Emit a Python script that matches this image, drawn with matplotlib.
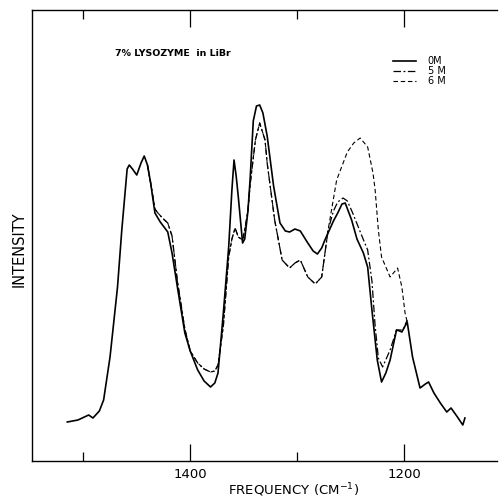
import matplotlib
matplotlib.use("Agg")
import matplotlib.pyplot as plt
from matplotlib.ticker import FixedLocator

# ---- data (frequency in cm^-1, intensity in arbitrary units) ----
freq_0M = [1515, 1505, 1495, 1491, 1485, 1481, 1475, 1468, 1464, 1459, 1457, 1454,
           1450, 1446, 1443, 1440, 1437, 1433, 1428, 1421, 1417, 1412, 1405, 1400,
           1393, 1387, 1381, 1377, 1374, 1369, 1364, 1361, 1359, 1357, 1355, 1351,
           1349, 1346, 1344, 1341, 1338, 1335, 1332, 1328, 1322, 1316, 1311, 1307,
           1302, 1297, 1290, 1285, 1281, 1277, 1274, 1266, 1262, 1258, 1255, 1249,
           1244, 1238, 1234, 1230, 1225, 1221, 1217, 1213, 1207, 1204, 1202, 1197,
           1192, 1185, 1180, 1177, 1172, 1166, 1160, 1156, 1150, 1145, 1143]
int_0M = [39, 41, 46, 43, 50, 61, 104, 174, 231, 292, 296, 292,
          286, 298, 305, 296, 278, 248, 239, 229, 208, 174, 128, 110,
          91, 80, 74, 78, 88, 148, 214, 271, 301, 285, 264, 218,
          222, 250, 281, 340, 355, 356, 348, 325, 275, 238, 230, 229,
          232, 230, 218, 210, 207, 213, 221, 240, 248, 257, 258, 241,
          222, 208, 194, 151, 101, 79, 88, 101, 131, 130, 129, 139,
          104, 73, 77, 79, 68, 58, 49, 53, 44, 36, 43]

freq_5M = [1440, 1437, 1433, 1431, 1426, 1421, 1417, 1412, 1405, 1400, 1393, 1387,
           1381, 1377, 1374, 1369, 1364, 1361, 1358, 1355, 1351, 1349, 1346, 1344,
           1339, 1335, 1330, 1328, 1321, 1314, 1307, 1302, 1297, 1290, 1283, 1277,
           1271, 1266, 1262, 1257, 1253, 1248, 1239, 1234, 1230, 1227, 1224, 1220,
           1213, 1207, 1201, 1197]
int_5M = [296, 278, 252, 249, 243, 238, 225, 180, 132, 110, 98, 92,
          89, 90, 96, 135, 204, 222, 233, 224, 221, 231, 250, 276,
          321, 338, 321, 298, 241, 201, 193, 198, 201, 184, 177, 184,
          231, 250, 259, 263, 260, 248, 224, 211, 180, 135, 103, 94,
          111, 131, 131, 141]

freq_6M = [1440, 1437, 1433, 1431, 1426, 1421, 1417, 1412, 1405, 1400, 1393, 1387,
           1381, 1377, 1374, 1369, 1364, 1361, 1358, 1355, 1351, 1349, 1346, 1344,
           1339, 1335, 1330, 1328, 1321, 1314, 1307, 1302, 1297, 1290, 1283, 1277,
           1271, 1263, 1253, 1247, 1241, 1234, 1229, 1227, 1224, 1221, 1213, 1206,
           1202, 1199, 1197]
int_6M = [296, 278, 252, 249, 243, 238, 225, 180, 132, 110, 98, 92,
          89, 90, 96, 135, 204, 222, 233, 224, 221, 231, 250, 276,
          321, 338, 321, 298, 241, 201, 193, 198, 201, 184, 177, 184,
          231, 281, 309, 318, 323, 314, 288, 271, 231, 204, 184, 193,
          174, 148, 139]

major_ticks = [1400, 1200]
major_labels = ["1400", "1200"]
minor_ticks = [1500, 1300]
series_labels = ["0M", "5 M", "6 M"]

# ---- figure ----
fig = plt.figure(figsize=(4.99, 5.00), dpi=100)
ax = fig.add_axes([32 / 499, 1 - 461 / 500, (497 - 32) / 499, (461 - 10) / 500])

ax.plot(freq_0M, int_0M, color="black", lw=1.2, ls="-", label=series_labels[0])
ax.plot(freq_5M, int_5M, color="black", lw=0.9, ls=(0, (6, 2, 1.5, 2)), label=series_labels[1])
ax.plot(freq_6M, int_6M, color="black", lw=0.8, ls=(0, (4, 2.5)), label=series_labels[2])

ax.set_xlim(1548, 1113)
ax.set_ylim(0, 451)

ax.spines["right"].set_visible(False)
for s in ["left", "top", "bottom"]:
    ax.spines[s].set_linewidth(1.0)

ax.xaxis.set_major_locator(FixedLocator(major_ticks))
ax.set_xticklabels(major_labels)
ax.xaxis.set_minor_locator(FixedLocator(minor_ticks))
ax.tick_params(axis="x", which="major", direction="in", length=12, width=0.9,
               top=True, labelsize=9.5, pad=5)
ax.tick_params(axis="x", which="minor", direction="in", length=6.5, width=0.9, top=True)
ax.set_yticks([])

ax.set_xlabel("FREQUENCY (CM$^{-1}$)", fontsize=9.5, va="center")
ax.xaxis.set_label_coords(0.563, -0.064)
ax.set_ylabel("INTENSITY", fontsize=10.5)
ax.yaxis.set_label_coords(-0.012, 0.47)

ax.text(1470, 408, "7% LYSOZYME  in LiBr", fontsize=6.8, fontweight="bold",
        ha="left", va="center")

leg = ax.legend(loc="upper left", bbox_to_anchor=(0.776, 0.898), frameon=False,
                fontsize=7, handlelength=2.4, labelspacing=0.0, handletextpad=1.2,
                borderpad=0, borderaxespad=0)

fig.savefig("out.png", dpi=100)
